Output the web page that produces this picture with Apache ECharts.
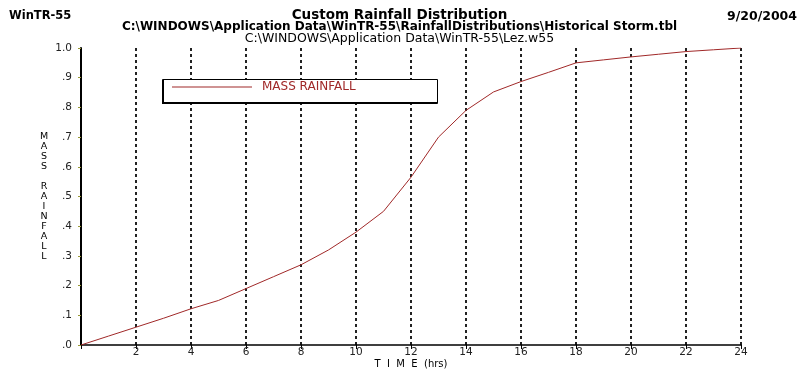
<!DOCTYPE html>
<html><head><meta charset="utf-8">
<script src="https://cdn.jsdelivr.net/npm/echarts@6/dist/echarts.min.js"></script>
<style>html,body{margin:0;padding:0;background:#fff}#c{width:799px;height:371px}</style>
</head><body><div id="c"></div>
<script>
const hours = [0,1,2,3,4,5,6,7,8,9,10,11,12,13,14,15,16,17,18,19,20,21,22,23,24];
const massRainfall = [0,0.03,0.06,0.09,0.122,0.15,0.19,0.23,0.27,0.32,0.38,0.45,0.565,0.70,0.79,0.852,0.887,0.918,0.95,0.96,0.97,0.979,0.988,0.994,1.0];
const yTickLabels = {0:'.0',1:'.1',2:'.2',3:'.3',4:'.4',5:'.5',6:'.6',7:'.7',8:'.8',9:'.9',10:'1.0'};
const seriesName = 'MASS RAINFALL';
const titleText = 'Custom Rainfall Distribution';
const subtitle1 = 'C:\\WINDOWS\\Application Data\\WinTR-55\\RainfallDistributions\\Historical Storm.tbl';
const subtitle2 = 'C:\\WINDOWS\\Application Data\\WinTR-55\\Lez.w55';
const leftHeader = 'WinTR-55';
const dateText = '9/20/2004';

const chart = echarts.init(document.getElementById('c'));
const F = 'DejaVu Sans, sans-serif';
const RED = '#a02828';
chart.setOption({
  animation: false,
  backgroundColor: '#fff',
  grid: {left: 81, right: 58, top: 48, bottom: 26, outerBoundsMode: 'none', containLabel: false},
  title: [
    {text: titleText, left: 'center', top: 8, padding: 0, textStyle: {fontFamily: F, fontSize: 13.5, fontWeight: 'bold', color: '#000'}},
    {text: leftHeader, left: 9, top: 10, padding: 0, textStyle: {fontFamily: F, fontSize: 11.5, fontWeight: 'bold', color: '#000'}},
    {text: dateText, right: 2, top: 10, padding: 0, textStyle: {fontFamily: F, fontSize: 12.5, fontWeight: 'bold', color: '#000'}},
    {text: subtitle1, left: 'center', top: 21, padding: 0, textStyle: {fontFamily: F, fontSize: 12, fontWeight: 'bold', color: '#000'}},
    {text: subtitle2, left: 'center', top: 32, padding: 0, textStyle: {fontFamily: F, fontSize: 12.5, fontWeight: 'normal', color: '#000'}}
  ],
  graphic: [
    {type: 'rect', left: 162, top: 79, shape: {width: 275, height: 24}, style: {fill: '#fff', stroke: '#000', lineWidth: 1}, z: 10},
    {type: 'line', shape: {x1: 163, y1: 80, x2: 163, y2: 103}, style: {stroke: '#000', lineWidth: 2}, z: 11},
    {type: 'line', shape: {x1: 162, y1: 103, x2: 437, y2: 103}, style: {stroke: '#000', lineWidth: 2}, z: 11}
  ],
  legend: {
    left: 167, top: 81, padding: [0, 5], itemWidth: 80, itemHeight: 1, z: 20,
    icon: 'rect',
    data: [{name: seriesName, itemStyle: {color: RED}}],
    textStyle: {fontFamily: F, fontSize: 12, color: RED, padding: [0, 0, 0, 5]}
  },
  xAxis: {
    type: 'value', min: 0, max: 24, interval: 2,
    name: 'T  I  M  E  (hrs)', nameLocation: 'middle', nameGap: 14, nameMoveOverlap: false,
    nameTextStyle: {fontFamily: F, fontSize: 10, color: '#000', verticalAlign: 'top'},
    axisLine: {show: true, onZero: false, lineStyle: {color: '#000', width: 1.5}},
    axisTick: {show: true, length: 4, lineStyle: {color: '#000'}},
    axisLabel: {fontFamily: F, fontSize: 10.5, color: '#222', margin: 2, formatter: v => v === 0 ? '' : String(v)},
    splitLine: {show: true, lineStyle: {color: '#222', width: 2, type: [3, 3]}}
  },
  yAxis: {
    type: 'value', min: 0, max: 1, interval: 0.1,
    name: 'M\nA\nS\nS\n\nR\nA\nI\nN\nF\nA\nL\nL', nameLocation: 'middle', nameRotate: 0, nameGap: 37, nameMoveOverlap: false,
    nameTextStyle: {fontFamily: F, fontSize: 9.5, lineHeight: 10, color: '#000', align: 'center'},
    axisLine: {show: true, lineStyle: {color: '#000', width: 2}},
    axisTick: {show: true, length: 3, lineStyle: {color: '#999933'}},
    axisLabel: {fontFamily: F, fontSize: 10.5, color: '#222', margin: 9, formatter: v => yTickLabels[Math.round(v * 10)] || ''},
    splitLine: {show: false}
  },
  series: [{
    name: seriesName, type: 'line', showSymbol: false, symbol: 'none',
    data: hours.map((h, i) => [h, massRainfall[i]]),
    lineStyle: {color: RED, width: 1}, itemStyle: {color: RED}
  }]
});
</script></body></html>
